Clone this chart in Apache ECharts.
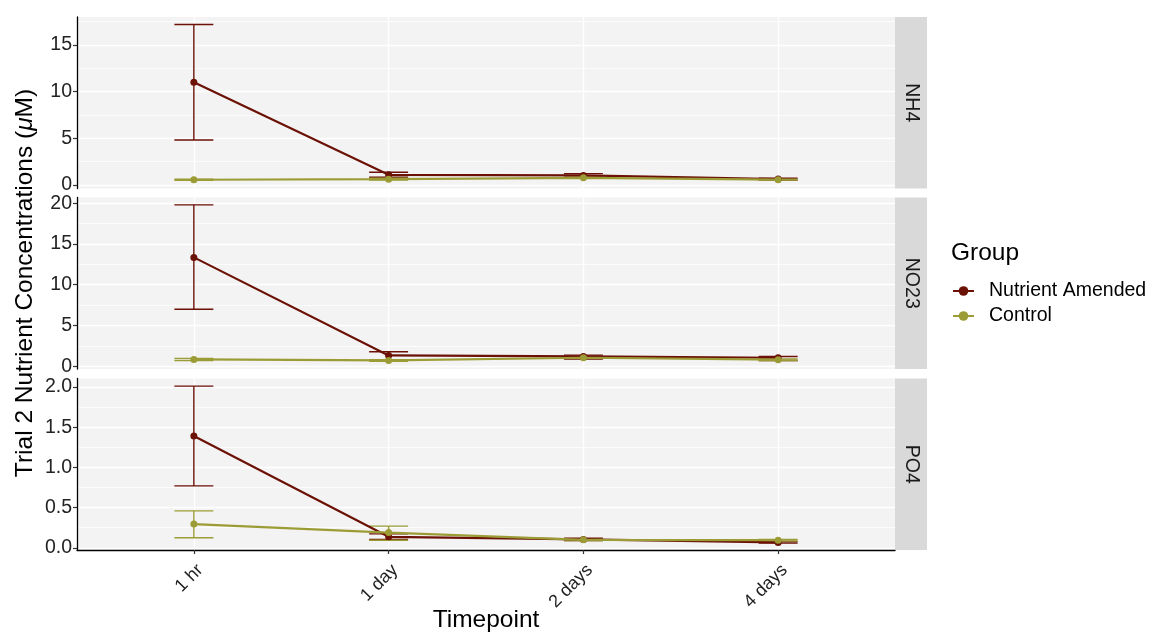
<!DOCTYPE html>
<html>
<head>
<meta charset="utf-8">
<script src="https://cdn.jsdelivr.net/npm/echarts@6/dist/echarts.min.js"></script>
<style>
html, body { margin: 0; padding: 0; background: #fff; }
#main { width: 1149px; height: 632px; }
</style>
</head>
<body>
<div id="main"></div>
<script>
// data
var timepoints = ['1 hr', '1 day', '2 days', '4 days'];
var nutrients = ['NH4', 'NO23', 'PO4'];
var groups = ['Nutrient Amended', 'Control'];

var amendedMean = { NH4: [11.0, 1.07, 1.0, 0.61], NO23: [13.35, 1.32, 1.19, 1.03], PO4: [1.39, 0.137, 0.104, 0.067] };
var amendedLow  = { NH4: [4.8, 0.8, 0.8, 0.5],    NO23: [6.98, 0.79, 0.86, 0.7],   PO4: [0.77, 0.104, 0.09, 0.06] };
var amendedHigh = { NH4: [17.2, 1.35, 1.2, 0.7],  NO23: [19.8, 1.77, 1.35, 1.19],  PO4: [2.01, 0.174, 0.12, 0.08] };

var controlMean = { NH4: [0.54, 0.6, 0.75, 0.55], NO23: [0.82, 0.7, 1.03, 0.79],   PO4: [0.295, 0.19, 0.1, 0.095] };
var controlLow  = { NH4: [0.48, 0.5, 0.7, 0.5],   NO23: [0.7, 0.6, 0.95, 0.7],     PO4: [0.125, 0.095, 0.09, 0.085] };
var controlHigh = { NH4: [0.6, 0.7, 0.82, 0.6],   NO23: [0.95, 0.8, 1.1, 0.88],    PO4: [0.46, 0.27, 0.11, 0.105] };

// axis ticks per panel
var majorTicks = { NH4: [0, 5, 10, 15], NO23: [0, 5, 10, 15, 20], PO4: [0, 0.5, 1, 1.5, 2] };
var minorTicks = { NH4: [2.5, 7.5, 12.5, 17.5], NO23: [2.5, 7.5, 12.5, 17.5], PO4: [0.25, 0.75, 1.25, 1.75] };
var yRange = { NH4: [-0.4, 18.0], NO23: [-0.35, 20.7], PO4: [-0.027, 2.105] };

var colors = { 'Nutrient Amended': '#6b1106', 'Control': '#9c9c36' };

var panelTop = [17, 197.5, 378.5];
var panelH = 171.5;
var panelLeft = 77, panelRight = 895;
var font = 'Liberation Sans, Arial, Helvetica, sans-serif';

var chart = echarts.init(document.getElementById('main'));

function renderErrorBar(params, api) {
    var x = api.value(0), lo = api.value(1), hi = api.value(2);
    var top = api.coord([x, hi]), bot = api.coord([x, lo]);
    var l = api.coord([x - 0.1, hi])[0], r = api.coord([x + 0.1, hi])[0];
    var style = { stroke: api.visual('color'), lineWidth: 1.4 };
    return {
        type: 'group',
        children: [
            { type: 'line', shape: { x1: top[0], y1: top[1], x2: bot[0], y2: bot[1] }, style: style },
            { type: 'line', shape: { x1: l, y1: top[1], x2: r, y2: top[1] }, style: style },
            { type: 'line', shape: { x1: l, y1: bot[1], x2: r, y2: bot[1] }, style: style }
        ]
    };
}

var grids = [], xAxes = [], yAxes = [], series = [], graphics = [];

nutrients.forEach(function (nut, i) {
    var last = i === nutrients.length - 1;
    grids.push({
        left: panelLeft, width: panelRight - panelLeft, top: panelTop[i], height: panelH,
        show: true, backgroundColor: '#f3f3f3', borderWidth: 0
    });
    xAxes.push({
        type: 'value', gridIndex: i, min: 0.4, max: 4.6,
        axisLine: { show: last, onZero: false, lineStyle: { color: '#000', width: 1.3 } },
        axisTick: { show: last, customValues: [1, 2, 3, 4], length: 4, lineStyle: { color: '#333', width: 1.2 } },
        axisLabel: {
            show: last, customValues: [1, 2, 3, 4], rotate: 45, margin: 11, verticalAlign: 'top',
            color: '#222', fontSize: 18, fontFamily: font,
            formatter: function (v) { return timepoints[Math.round(v) - 1]; }
        },
        splitLine: { show: true, lineStyle: { color: '#fff', width: 1.4 } }
    });
    // major axis with labels
    yAxes.push({
        type: 'value', gridIndex: i, min: yRange[nut][0], max: yRange[nut][1],
        axisLine: { show: true, onZero: false, lineStyle: { color: '#000', width: 1.3 } },
        axisTick: { show: true, customValues: majorTicks[nut], length: 4, lineStyle: { color: '#333', width: 1.2 } },
        axisLabel: {
            customValues: majorTicks[nut], color: '#222', fontSize: 19.5, fontFamily: font, margin: 5,
            formatter: function (v) { return nut === 'PO4' ? v.toFixed(1) : String(v); }
        },
        splitLine: { show: true, lineStyle: { color: '#fff', width: 1.4 } }
    });
    // minor grid lines
    yAxes.push({
        type: 'value', gridIndex: i, min: yRange[nut][0], max: yRange[nut][1],
        axisLine: { show: false },
        axisTick: { show: false, customValues: minorTicks[nut] },
        axisLabel: { show: false },
        splitLine: { show: true, lineStyle: { color: '#fff', width: 0.7 } }
    });

    var yIdx = i * 2;
    groups.forEach(function (g) {
        var mean = g === 'Control' ? controlMean[nut] : amendedMean[nut];
        series.push({
            name: g, type: 'line', xAxisIndex: i, yAxisIndex: yIdx,
            data: mean.map(function (v, k) { return [k + 1, v]; }),
            symbol: 'circle', symbolSize: 7, z: g === 'Control' ? 4 : 3,
            itemStyle: { color: colors[g] },
            lineStyle: { color: colors[g], width: 2.2 },
            emphasis: { disabled: true }, animation: false
        });
    });
    groups.forEach(function (g) {
        var lo = g === 'Control' ? controlLow[nut] : amendedLow[nut];
        var hi = g === 'Control' ? controlHigh[nut] : amendedHigh[nut];
        series.push({
            name: g, type: 'custom', xAxisIndex: i, yAxisIndex: yIdx,
            data: lo.map(function (v, k) { return [k + 1, v, hi[k]]; }),
            encode: { x: 0, y: [1, 2] },
            renderItem: renderErrorBar, z: 2,
            itemStyle: { color: colors[g] }, animation: false
        });
    });

    // facet strip
    graphics.push({
        type: 'rect', left: panelRight, top: panelTop[i],
        shape: { width: 32, height: panelH }, style: { fill: '#d9d9d9' }
    });
    graphics.push({
        type: 'text', x: panelRight + 16, y: panelTop[i] + panelH / 2, rotation: -Math.PI / 2,
        style: { text: nut, fill: '#1a1a1a', font: '19.5px ' + font, align: 'center', verticalAlign: 'middle' }
    });
});

graphics.push({
    type: 'text', x: 25, y: 283, rotation: Math.PI / 2,
    style: {
        text: '{a|Trial 2 Nutrient Concentrations (}{b|μ}{a|M)}',
        align: 'center', verticalAlign: 'middle',
        rich: {
            a: { fontSize: 24.5, fontFamily: font, fill: '#000' },
            b: { fontSize: 24.5, fontFamily: font, fontStyle: 'italic', fill: '#000' }
        }
    }
});
graphics.push({
    type: 'text', x: (panelLeft + panelRight) / 2, y: 620,
    style: { text: 'Timepoint', font: '24.5px ' + font, fill: '#000', align: 'center', verticalAlign: 'middle' }
});

chart.setOption({
    animation: false,
    title: {
        text: 'Group', left: 951, top: 241, padding: 0,
        textStyle: { fontSize: 24.5, fontWeight: 'normal', color: '#000', fontFamily: font }
    },
    legend: {
        data: groups, orient: 'vertical', left: 952, top: 281, padding: 0,
        itemWidth: 21, itemHeight: 12, itemGap: 5,
        textStyle: { fontSize: 19.5, color: '#000', fontFamily: font, padding: [0, 0, 0, 10] }
    },
    grid: grids,
    xAxis: xAxes,
    yAxis: yAxes,
    series: series,
    graphic: graphics
});
</script>
</body>
</html>
